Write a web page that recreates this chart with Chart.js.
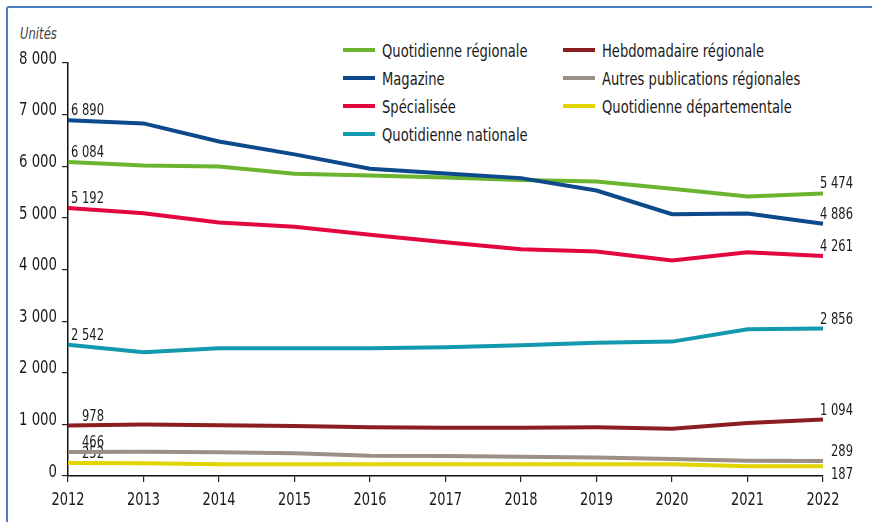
<!DOCTYPE html>
<html lang="fr">
<head>
  <meta charset="UTF-8">
  <title>Titres de presse par famille</title>
  <script src="https://cdn.jsdelivr.net/npm/chart.js"></script>
  <style>
    body { margin: 0; background: #fff; }
    #wrap { position: relative; width: 872px; height: 522px; overflow: hidden;
            font-family: 'Liberation Sans Narrow', 'DejaVu Sans Condensed', 'Liberation Sans', sans-serif; color: #1a1a1a; }
    #frame { position: absolute; left: 6px; top: 6px; width: 900px; height: 600px;
             border-top: 2px solid #4a80c0; border-left: 2px solid #4a80c0; border-top-left-radius: 3px; }
    #unit { position: absolute; left: 20px; top: 25px; font-style: italic; font-size: 15px; color: #444;
            transform: scaleX(0.86); transform-origin: left center; }
    #legend { position: absolute; left: 343px; top: 36px; display: grid;
              grid-template-columns: 220px auto; grid-template-rows: repeat(4, 28px); grid-auto-flow: column; }
    .item { display: flex; align-items: center; font-size: 18px; white-space: nowrap; }
    .swatch { width: 32px; height: 4px; margin-right: 7px; flex: none; }
    .txt { display: inline-block; transform: scaleX(0.81); transform-origin: left center; }
    canvas { position: absolute; left: 0; top: 0; }
  </style>
</head>
<body>
<div id="wrap">
  <div id="frame"></div>
  <div id="unit">Unités</div>
  <div id="legend"></div>
  <canvas id="chart" width="872" height="522"></canvas>
</div>
<script>
  // years on the x axis
  const years = ['2012', '2013', '2014', '2015', '2016', '2017', '2018', '2019', '2020', '2021', '2022'];

  // one array per family of titles
  const quotidienneRegionale = [6084, 6014, 5995, 5853, 5820, 5781, 5736, 5703, 5562, 5413, 5474];
  const magazine = [6890, 6830, 6480, 6230, 5950, 5860, 5770, 5530, 5071, 5083, 4886];
  const specialisee = [5192, 5091, 4909, 4826, 4671, 4529, 4393, 4347, 4175, 4335, 4261];
  const quotidienneNationale = [2542, 2397, 2475, 2475, 2475, 2494, 2533, 2583, 2603, 2843, 2856];
  const hebdomadaireRegionale = [978, 996, 982, 969, 943, 937, 937, 943, 917, 1027, 1094];
  const autresPublications = [466, 472, 459, 440, 394, 388, 375, 356, 330, 295, 289];
  const quotidienneDepartementale = [252, 245, 226, 226, 226, 226, 226, 228, 226, 190, 187];

  const seriesNames = ['Quotidienne régionale', 'Magazine', 'Spécialisée', 'Quotidienne nationale',
                       'Hebdomadaire régionale', 'Autres publications régionales', 'Quotidienne départementale'];
  const seriesColors = ['#6ab42f', '#0c4a8c', '#e4063f', '#1399ae', '#8c1e21', '#9c8f86', '#e2d400'];
  const seriesValues = [quotidienneRegionale, magazine, specialisee, quotidienneNationale,
                        hebdomadaireRegionale, autresPublications, quotidienneDepartementale];

  const yTicks = [0, 1000, 2000, 3000, 4000, 5000, 6000, 7000, 8000];

  const fontFamily = "'Liberation Sans Narrow', 'DejaVu Sans Condensed', 'Liberation Sans', sans-serif";

  function fmt(v) {
    return String(v).replace(/\B(?=(\d{3})+(?!\d))/g, ' ');
  }

  // narrow text: the source uses a condensed face, squeeze horizontally
  function squeezed(ctx, text, x, y, align, sx) {
    ctx.save();
    ctx.translate(x, y);
    ctx.scale(sx, 1);
    ctx.textAlign = align;
    ctx.fillText(text, 0, 0);
    ctx.restore();
  }

  // html legend, two columns
  const legend = document.getElementById('legend');
  seriesNames.forEach(function(name, i) {
    const item = document.createElement('div');
    item.className = 'item';
    item.innerHTML = '<span class="swatch" style="background:' + seriesColors[i] + '"></span><span class="txt">' + name + '</span>';
    legend.appendChild(item);
  });

  // tick labels drawn from the scales' own ticks
  const tickLabels = {
    id: 'tickLabels',
    afterDraw(chart) {
      const ctx = chart.ctx;
      const xs = chart.scales.x, ys = chart.scales.y;
      ctx.save();
      ctx.font = '18px ' + fontFamily;
      ctx.fillStyle = '#1a1a1a';
      ctx.textBaseline = 'middle';
      ys.ticks.forEach(function(t, i) {
        squeezed(ctx, fmt(t.value), ys.right - 11, ys.getPixelForTick(i) - 4, 'right', 0.82);
      });
      xs.ticks.forEach(function(t, i) {
        squeezed(ctx, xs.getLabelForValue(t.value), xs.getPixelForTick(i), xs.top + 24, 'center', 0.8);
      });
      ctx.restore();
    }
  };

  // first and last values written next to each line (under the lines, as in the source)
  const endLabels = {
    id: 'endLabels',
    beforeDatasetsDraw(chart) {
      const ctx = chart.ctx;
      ctx.save();
      ctx.font = '16px ' + fontFamily;
      ctx.fillStyle = '#1a1a1a';
      ctx.textBaseline = 'alphabetic';
      const ends = [];
      chart.data.datasets.forEach(function(ds, i) {
        const pts = chart.getDatasetMeta(i).data;
        const first = pts[0];
        squeezed(ctx, fmt(ds.data[0]), first.x + 36, first.y - 5, 'right', 0.8);
        const last = pts[pts.length - 1];
        ends.push({ x: last.x, y: last.y, v: ds.data[ds.data.length - 1] });
      });
      ends.sort(function(a, b) { return a.y - b.y; });
      let prev = -100;
      ends.forEach(function(e) {
        let base = e.y - 5;
        if (base - prev < 14) base = e.y + 13;
        squeezed(ctx, fmt(e.v), e.x + 30, base, 'right', 0.8);
        prev = base;
      });
      ctx.restore();
    }
  };

  new Chart(document.getElementById('chart'), {
    type: 'line',
    data: {
      labels: years,
      datasets: seriesValues.map(function(vals, i) {
        return {
          label: seriesNames[i],
          data: vals,
          borderColor: seriesColors[i],
          backgroundColor: seriesColors[i],
          borderWidth: 4,
          pointRadius: 0,
          tension: 0,
          order: i === 1 ? 0 : 1
        };
      })
    },
    options: {
      responsive: false,
      animation: false,
      layout: { padding: { left: 0, top: 63, right: 49, bottom: 0 } },
      plugins: { legend: { display: false }, tooltip: { enabled: false } },
      scales: {
        x: {
          offset: false,
          grid: { display: true, drawOnChartArea: false, drawTicks: true, tickLength: 6, color: '#222', lineWidth: 1.2 },
          border: { color: '#111', width: 1.5 },
          ticks: { display: false },
          afterFit(scale) { scale.height = 46; }
        },
        y: {
          min: 0,
          max: 8000,
          afterBuildTicks(scale) { scale.ticks = yTicks.map(function(v) { return { value: v }; }); },
          grid: { display: true, drawOnChartArea: false, drawTicks: true, tickLength: 6, color: '#222', lineWidth: 1.2 },
          border: { color: '#111', width: 1.5 },
          ticks: { display: false },
          afterFit(scale) { scale.width = 68; }
        }
      }
    },
    plugins: [endLabels, tickLabels]
  });
</script>
</body>
</html>
